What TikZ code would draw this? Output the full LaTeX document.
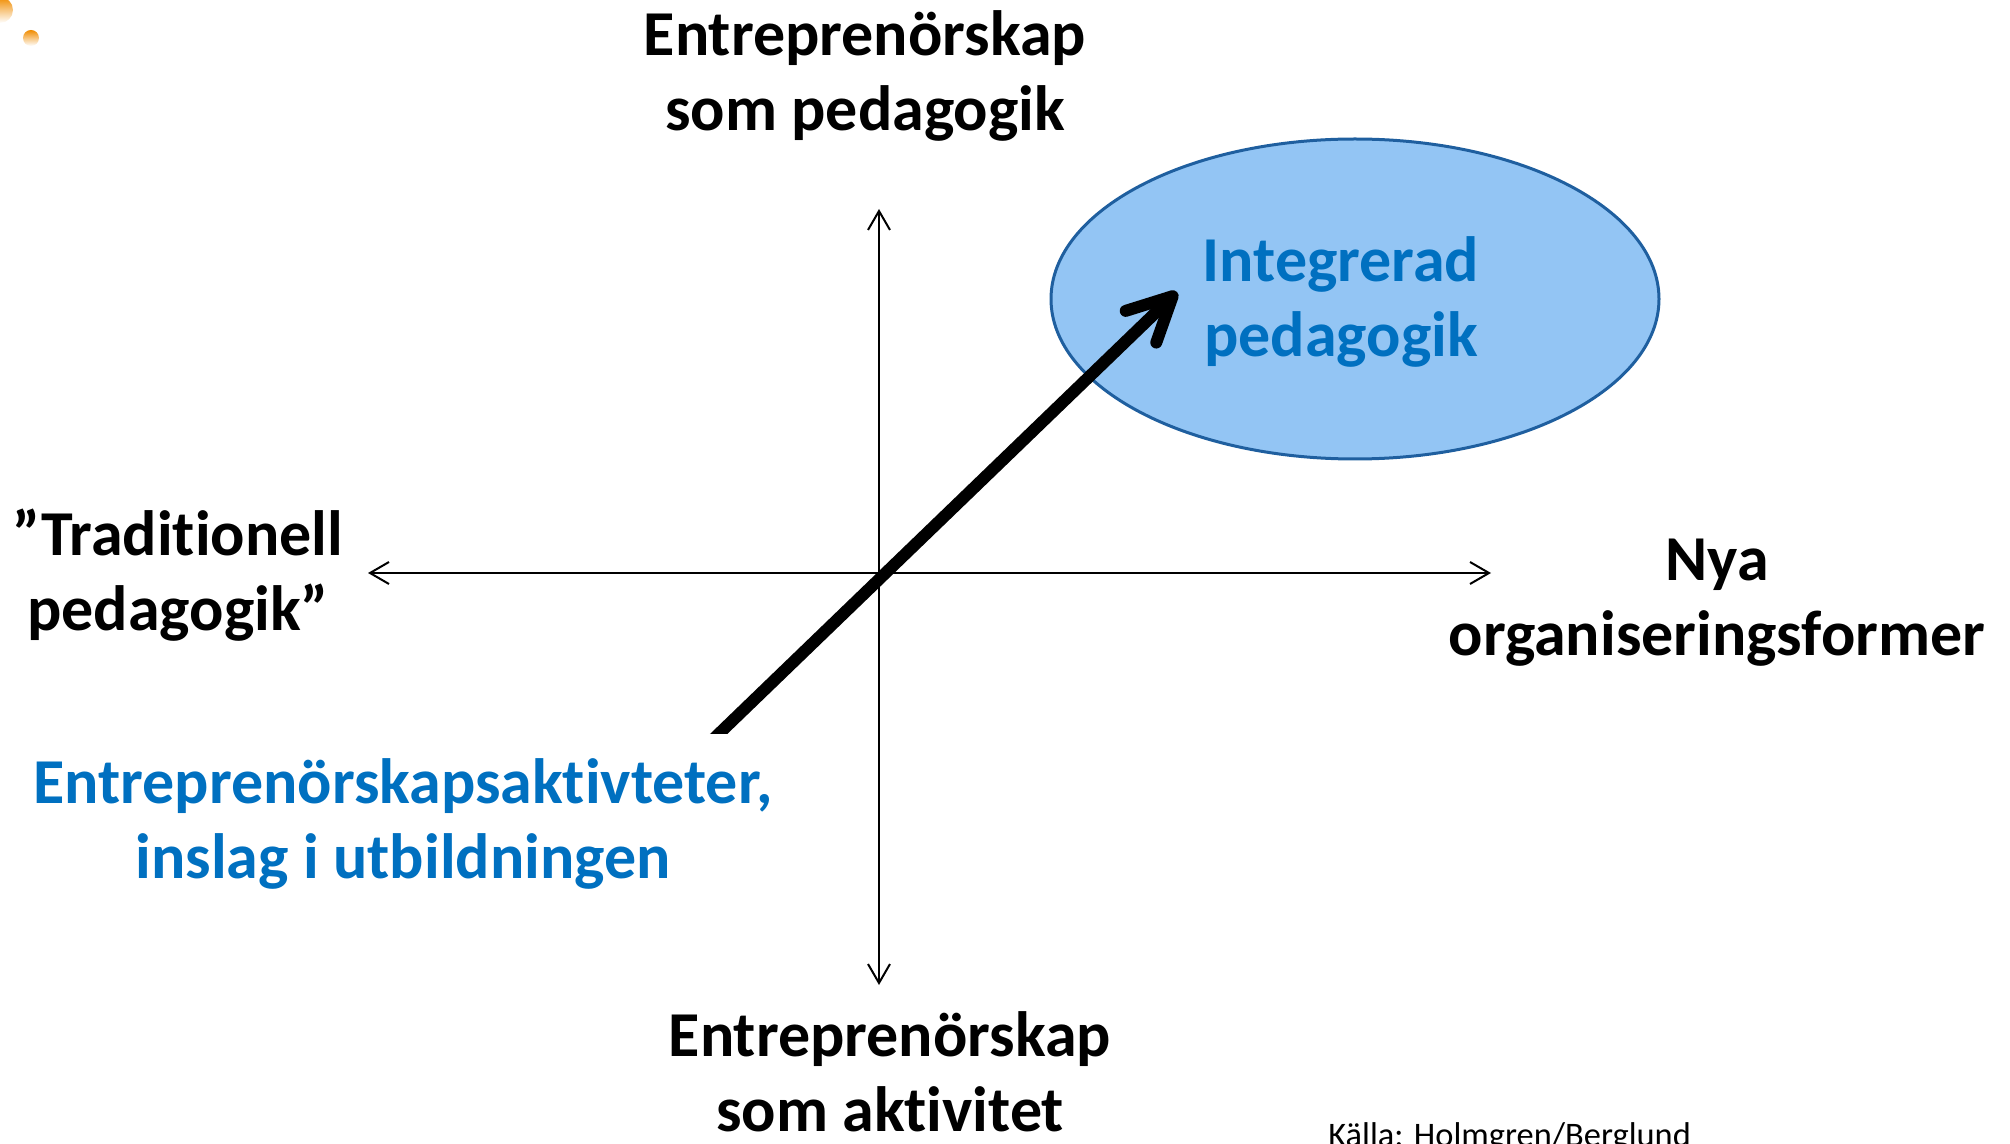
\documentclass[tikz,border=0pt]{standalone}
\usepackage{fontspec}
\setmainfont{Carlito}[Ligatures=NoCommon]
\usetikzlibrary{arrows.meta,shapes.geometric}
\definecolor{txtblue}{HTML}{0070C0}
\definecolor{ellfill}{HTML}{93C5F4}
\definecolor{elldraw}{HTML}{1F5F9F}
\definecolor{dotorange}{HTML}{F08C00}
\begin{document}
\begin{tikzpicture}[x=0.5pt,y=-0.5pt,
  lbl/.style={font=\fontsize{32}{37.5}\selectfont\bfseries, align=center, inner sep=0pt},
  axis/.style={line width=1pt, {Straight Barb[length=9.5pt,width=11pt]}-{Straight Barb[length=9.5pt,width=11pt]}},
  bigarrow/.style={line width=6pt, -{Straight Barb[length=22pt,width=22pt,round]}}]
\useasboundingbox (0,0) rectangle (2010,1144);
% decorative dots
\shade[top color=dotorange, bottom color=white] (0,10) circle (6.5pt);
\shade[top color=dotorange, bottom color=white] (31,38) circle (4pt);
% ellipse
\node[ellipse, draw=elldraw, fill=ellfill, line width=1.5pt, minimum width=304pt, minimum height=160pt, inner sep=0pt] (ell) at (1355,299) {};
% axes
\coordinate (top) at (879,209);
\coordinate (bot) at (879,985);
\coordinate (lft) at (368,573);
\coordinate (rgt) at (1491,573);
\draw[axis] (bot) -- (top);
\draw[axis] (lft) -- (rgt);
% thick arrow
\coordinate (as) at (701,751);
\coordinate (at) at (1177,292);
\begin{scope}
\clip (0,0) rectangle (2010,733);
\draw[bigarrow] (as) -- (at);
\end{scope}
% labels
\node[lbl] (tp) at (865,76) {Entreprenörskap\\som pedagogik};
\node[lbl] (bt) at (890,1072) {Entreprenörskap\\som aktivitet};
\node[lbl] (lf) at (178,575) {”Traditionell\\pedagogik”};
\node[lbl] (rt) at (1717,603) {Nya\\organiseringsformer};
\node[lbl, text=txtblue] (act) at (403,824) {Entreprenörskapsaktivteter,\\inslag i utbildningen};
\node[lbl, text=txtblue] (integ) at (1341,302) {Integrerad\\pedagogik};
\node[font=\fontsize{17.2}{20}\selectfont, anchor=base west, inner sep=0pt] (src) at (1328,1146) {Källa: Holmgren/Berglund};
\end{tikzpicture}
\end{document}
